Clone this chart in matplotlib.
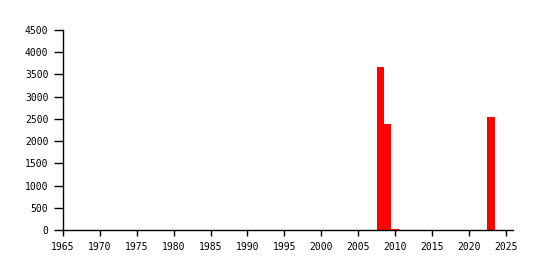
import matplotlib
matplotlib.use("Agg")
import matplotlib.pyplot as plt

years = [2008, 2009, 2010, 2023]
values = [3667, 2385, 25, 2550]
xticks = list(range(1965, 2030, 5))
yticks = list(range(0, 5000, 500))

plt.rcParams['font.family'] = ['DejaVu Sans Mono']
fig = plt.figure(figsize=(5.41, 2.70), dpi=100)
ax = fig.add_axes([63/541, 40/270, (513-63)/541, 200/270])
ax.bar(years, values, width=1.0, color='#ff0000', linewidth=0)
ax.set_xlim(1965, 2026)
ax.set_ylim(0, 4500)
ax.set_xticks(xticks)
ax.set_yticks(yticks)
for s in ['top', 'right']:
    ax.spines[s].set_visible(False)
for s in ['left', 'bottom']:
    ax.spines[s].set_linewidth(1.0)
    ax.spines[s].set_color('black')
ax.tick_params(axis='y', length=6.5, width=1, labelsize=7, pad=4)
ax.tick_params(axis='x', length=4.3, width=1, labelsize=7, pad=4)
fig.savefig("out.png", dpi=100)
